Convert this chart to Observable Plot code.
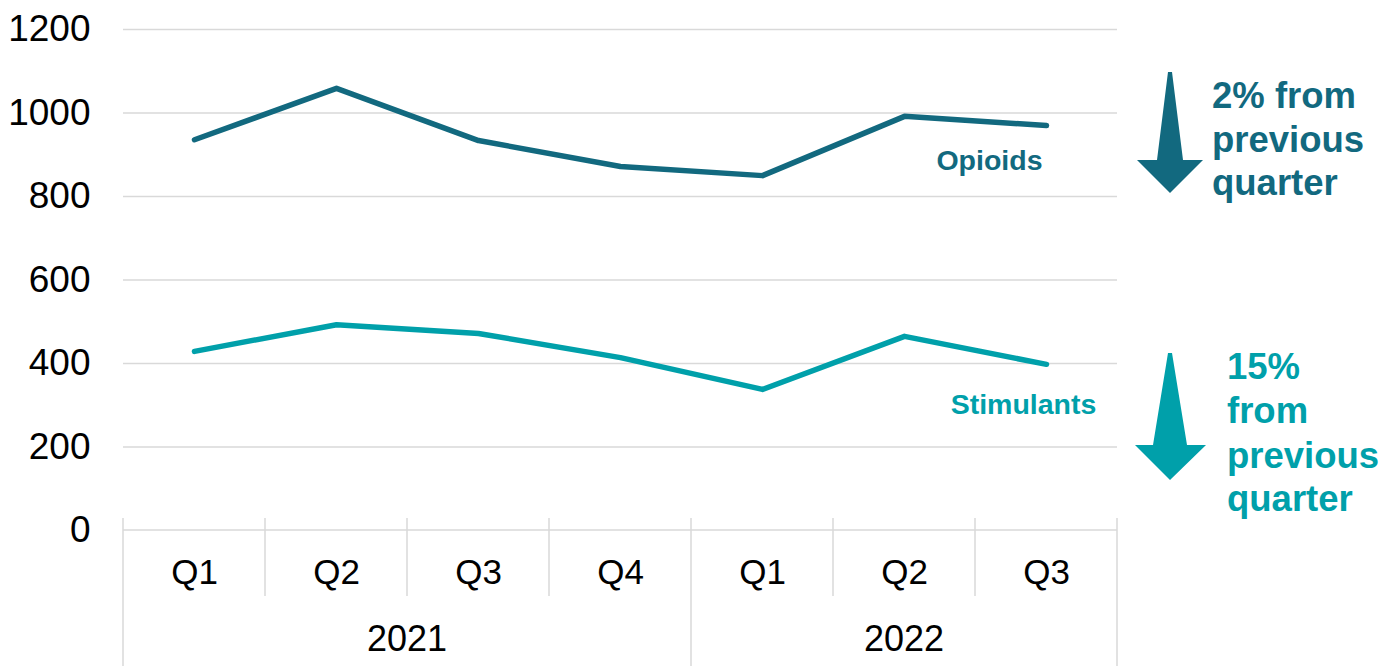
<!DOCTYPE html>
<html><head><meta charset="utf-8">
<script src="https://cdn.jsdelivr.net/npm/d3@7"></script>
<script src="https://cdn.jsdelivr.net/npm/@observablehq/plot@0.6"></script>
<style>body{margin:0;background:#fff}</style>
</head><body><div id="chart"></div>
<script>
const quarters = ["Q1","Q2","Q3","Q4","Q1","Q2","Q3"];
const years = ["2021","2021","2021","2021","2022","2022","2022"];
const opioids = [936,1059,934,872,850,992,970];
const stimulants = [429,493,472,414,338,465,398];
const yTicks = [0,200,400,600,800,1000,1200];
const seriesNames = ["Opioids","Stimulants"];
const changeLabels = [["2% from","previous","quarter"],["15%","from","previous","quarter"]];
const colors = ["#12697f","#00a0aa"];

const keys = quarters.map((q,i)=>years[i]+" "+q);
const rows = [];
keys.forEach((k,i)=>{
  rows.push({key:k, series:seriesNames[0], value:opioids[i]});
  rows.push({key:k, series:seriesNames[1], value:stimulants[i]});
});
const lastKey = keys[keys.length-1];
const lastOp = rows.filter(r=>r.key===lastKey && r.series===seriesNames[0]);
const lastSt = rows.filter(r=>r.key===lastKey && r.series===seriesNames[1]);

const font = "'Liberation Sans', Arial, sans-serif";

function decorations(index, scales, values, dims) {
  const x = scales.x;
  const bw = (x.bandwidth ? x.bandwidth() : (dims.width - dims.marginLeft - dims.marginRight)/keys.length);
  const bottom = dims.height - dims.marginBottom;
  const g = d3.create("svg:g");
  const gray = "#d9d9d9";
  g.append("line").attr("x1", x(keys[0])).attr("x2", x(lastKey)+bw)
    .attr("y1", bottom).attr("y2", bottom).attr("stroke", gray).attr("stroke-width", 1.5);
  const bounds = keys.map((k,i)=>({x:x(k), outer: i===0 || years[i]!==years[i-1]}));
  bounds.push({x:x(lastKey)+bw, outer:true});
  bounds.forEach(b=>{
    g.append("line").attr("x1", b.x).attr("x2", b.x)
      .attr("y1", bottom-12).attr("y2", b.outer ? dims.height : bottom+66)
      .attr("stroke", gray).attr("stroke-width", 1.5);
  });
  const uniq = Array.from(new Set(years));
  uniq.forEach(yr=>{
    const ks = keys.filter((k,i)=>years[i]===yr);
    const cx = (x(ks[0]) + x(ks[ks.length-1]) + bw)/2;
    g.append("text").attr("x", cx).attr("y", bottom+108).attr("dy","0.35em")
      .attr("text-anchor","middle").attr("font-size",36).attr("font-family",font)
      .attr("fill","#000").text(yr);
  });
  const right = dims.width - dims.marginRight;
  const cx = right + 53;
  const arrows = [
    {c:colors[0], pts:[[cx-2,72],[cx+2,72],[cx+13,160],[cx+33,160],[cx,193],[cx-33,160],[cx-13,160]], tx:right+95, ty:[95,139,182]},
    {c:colors[1], pts:[[cx-2,353],[cx+2,353],[cx+17,445],[cx+36,445],[cx,480],[cx-35,445],[cx-17,445]], tx:right+110, ty:[366,410,455,498]}
  ];
  arrows.forEach((a,j)=>{
    g.append("polygon").attr("points", a.pts.map(p=>p.join(",")).join(" ")).attr("fill", a.c);
    changeLabels[j].forEach((line,i)=>{
      g.append("text").attr("x", a.tx).attr("y", a.ty[i]).attr("dy","0.35em")
        .attr("text-anchor","start")
        .attr("font-size",36.5).attr("font-weight","bold").attr("font-family",font)
        .attr("fill", a.c).text(line);
    });
  });
  return g.node();
}

const chart = Plot.plot({
  width: 1398, height: 666,
  marginLeft: 123, marginRight: 281, marginTop: 29, marginBottom: 136,
  style: {fontFamily: font, background: "#fff"},
  x: {type: "band", domain: keys, padding: 0, axis: null},
  y: {domain: [0, 1200], axis: null},
  color: {domain: seriesNames, range: colors},
  marks: [
    Plot.ruleY(yTicks.filter(d=>d>0), {stroke: "#d9d9d9", strokeWidth: 1.5}),
    Plot.text(yTicks, {y: d=>d, text: d=>String(d), frameAnchor: "left", dx: -33, textAnchor: "end", fontSize: 37, fill: "#000"}),
    Plot.text(keys, {x: d=>d, text: (d,i)=>quarters[i], frameAnchor: "bottom", dy: 53, fontSize: 35, fill: "#000"}),
    decorations,
    Plot.line(rows, {x: "key", y: "value", z: "series", stroke: "series", strokeWidth: 5.5}),
    Plot.text(lastOp, {x: "key", y: "value", text: "series", fill: "series", fontWeight: "bold", fontSize: 28.5, dx: -57, dy: 35}),
    Plot.text(lastSt, {x: "key", y: "value", text: "series", fill: "series", fontWeight: "bold", fontSize: 28.5, dx: -23, dy: 41})
  ]
});
document.getElementById("chart").appendChild(chart);
</script>
</body></html>
